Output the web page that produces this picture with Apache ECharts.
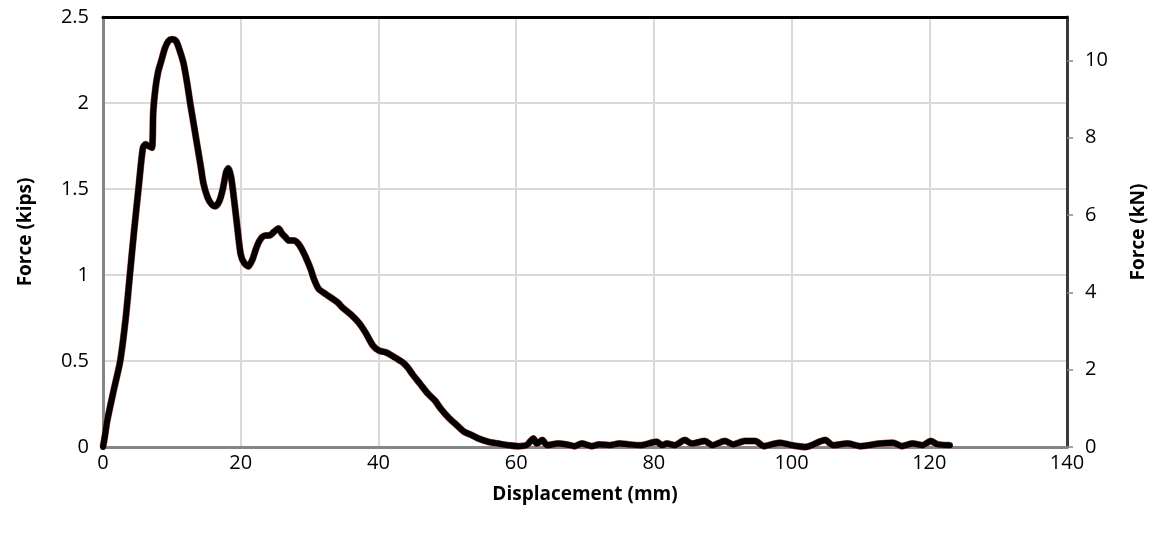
<!DOCTYPE html>
<html>
<head>
<meta charset="utf-8">
<title>Force vs Displacement</title>
<script src="https://cdn.jsdelivr.net/npm/echarts@6/dist/echarts.min.js"></script>
<style>
  html, body { margin: 0; padding: 0; background: #fff; }
  #chart { width: 1157px; height: 535px; }
</style>
</head>
<body>
<div id="chart"></div>
<script>
// Displacement (mm)
const dispMm = [
  0, 0.3, 0.6, 1.5, 2.5, 3.3, 3.9, 4.5, 5.2, 5.8, 6.2, 6.6, 7.1, 7.3, 7.6, 8.0, 8.5, 9.0, 9.5, 10.0,
  10.6, 11.1, 11.7, 12.2, 12.7, 13.2, 13.7, 14.2, 14.6, 15.2, 15.8, 16.3, 16.9, 17.4, 17.9, 18.2, 18.6, 19.0, 19.5, 20.0,
  20.5, 21.1, 21.7, 22.2, 22.6, 23.1, 23.6, 24.2, 24.8, 25.5, 26.0, 26.5, 27.0, 27.7, 28.4, 29.0, 29.7, 30.2, 30.6, 31.3,
  32.3, 33.4, 34.1, 34.8, 36.0, 37.2, 38.2, 39.2, 40.1, 41.1, 42.0, 42.8, 43.6, 44.3, 45.0, 46.0, 47.2, 48.2, 49.1, 50.2,
  51.3, 52.4, 53.5, 54.5, 56.0, 57.4, 58.8, 60.3, 61.5, 62.0, 62.5, 63.0, 63.8, 64.5, 66.1, 67.3, 68.5, 69.5, 71.0, 72.0,
  73.6, 75.0, 76.3, 78.0, 80.4, 81.2, 81.9, 83.0, 84.5, 85.5, 87.4, 88.5, 90.3, 91.5, 93.2, 94.7, 96.0, 98.3, 100.0, 102.0,
  104.9, 106.0, 108.1, 110.0, 112.9, 114.7, 116.0, 117.6, 119.0, 120.2, 121.2, 123.0
];
// Force (kips)
const forceKips = [
  0, 0.07, 0.15, 0.32, 0.50, 0.75, 1.00, 1.25, 1.52, 1.74, 1.76, 1.75, 1.74, 1.95, 2.08, 2.18, 2.25, 2.32, 2.36, 2.37,
  2.36, 2.31, 2.23, 2.12, 1.99, 1.87, 1.75, 1.63, 1.53, 1.45, 1.41, 1.40, 1.43, 1.50, 1.60, 1.62, 1.57, 1.45, 1.28, 1.12,
  1.07, 1.05, 1.09, 1.15, 1.19, 1.22, 1.23, 1.23, 1.25, 1.27, 1.24, 1.22, 1.20, 1.20, 1.18, 1.14, 1.08, 1.03, 0.98, 0.92,
  0.89, 0.86, 0.84, 0.81, 0.77, 0.72, 0.66, 0.59, 0.56, 0.55, 0.53, 0.51, 0.49, 0.46, 0.42, 0.37, 0.31, 0.27, 0.22, 0.17,
  0.13, 0.09, 0.07, 0.05, 0.03, 0.02, 0.01, 0.005, 0.01, 0.03, 0.05, 0.02, 0.04, 0.01, 0.02, 0.015, 0.005, 0.02, 0.005, 0.015,
  0.01, 0.02, 0.015, 0.01, 0.03, 0.01, 0.02, 0.01, 0.04, 0.02, 0.035, 0.01, 0.035, 0.015, 0.035, 0.035, 0.005, 0.025, 0.01, 0.0,
  0.04, 0.01, 0.02, 0.005, 0.02, 0.025, 0.005, 0.02, 0.01, 0.035, 0.015, 0.01
];
// Axis settings
const xTicks = { min: 0, max: 140, interval: 20 };
const kipsTicks = { min: 0, max: 2.5, interval: 0.5 };
const kNMax = 11.12;           // 2.5 kips expressed in kN
const kNLabels = [0, 2, 4, 6, 8, 10];

const points = dispMm.map((d, i) => [d, forceKips[i]]);

const font = '"Open Sans", "DejaVu Sans", sans-serif';
const tickFont = { fontFamily: font, fontSize: 20, color: '#000' };
const titleFont = { fontFamily: font, fontSize: 19, fontWeight: 'bold', color: '#000' };
const chart = echarts.init(document.getElementById('chart'), null, { renderer: 'canvas' });

chart.setOption({
  animation: false,
  backgroundColor: '#ffffff',
  grid: { left: 103, right: 90, top: 17, bottom: 88, containLabel: false },
  xAxis: [
    {
      type: 'value',
      position: 'bottom',
      min: xTicks.min, max: xTicks.max, interval: xTicks.interval,
      name: 'Displacement (mm)',
      nameLocation: 'middle',
      nameGap: 38,
      nameTextStyle: titleFont,
      axisLine: { show: true, onZero: false, lineStyle: { color: '#868686', width: 3 } },
      axisTick: { show: false },
      axisLabel: Object.assign({ margin: 6 }, tickFont),
      splitLine: { show: true, lineStyle: { color: '#d9d9d9', width: 2 } }
    },
    {
      type: 'value',
      position: 'top',
      min: xTicks.min, max: xTicks.max, interval: xTicks.interval,
      axisLine: { show: true, onZero: false, lineStyle: { color: '#000', width: 3 } },
      axisTick: { show: false },
      axisLabel: { show: false },
      splitLine: { show: false }
    }
  ],
  yAxis: [
    {
      type: 'value',
      position: 'left',
      min: kipsTicks.min, max: kipsTicks.max, interval: kipsTicks.interval,
      name: 'Force (kips)',
      nameLocation: 'middle',
      nameGap: 68,
      nameRotate: 90,
      nameTextStyle: titleFont,
      axisLine: { show: true, onZero: false, lineStyle: { color: '#868686', width: 3 } },
      axisTick: { show: false },
      axisLabel: Object.assign({ margin: 14 }, tickFont),
      splitLine: { show: true, lineStyle: { color: '#d9d9d9', width: 2 } }
    },
    {
      type: 'value',
      position: 'right',
      min: 0, max: kNMax,
      name: 'Force (kN)',
      nameLocation: 'middle',
      nameGap: 62,
      nameRotate: 90,
      nameTextStyle: titleFont,
      axisLine: { show: true, onZero: false, lineStyle: { color: '#3a3a3a', width: 3 } },
      axisTick: { show: true, customValues: kNLabels, length: 6, lineStyle: { color: '#868686', width: 1.5 } },
      axisLabel: Object.assign({ customValues: kNLabels, margin: 18 }, tickFont),
      splitLine: { show: false }
    }
  ],
  series: [
    {
      name: 'Force (red trace)',
      type: 'line',
      data: points,
      showSymbol: false,
      smooth: 0.25,
      clip: false,
      lineStyle: { color: '#c0504d', width: 7 },
      z: 2
    },
    {
      name: 'Force',
      type: 'line',
      data: points,
      showSymbol: false,
      smooth: 0.25,
      clip: false,
      lineStyle: { color: '#000000', width: 6, cap: 'round', join: 'round' },
      z: 3
    }
  ]
});
</script>
</body>
</html>
